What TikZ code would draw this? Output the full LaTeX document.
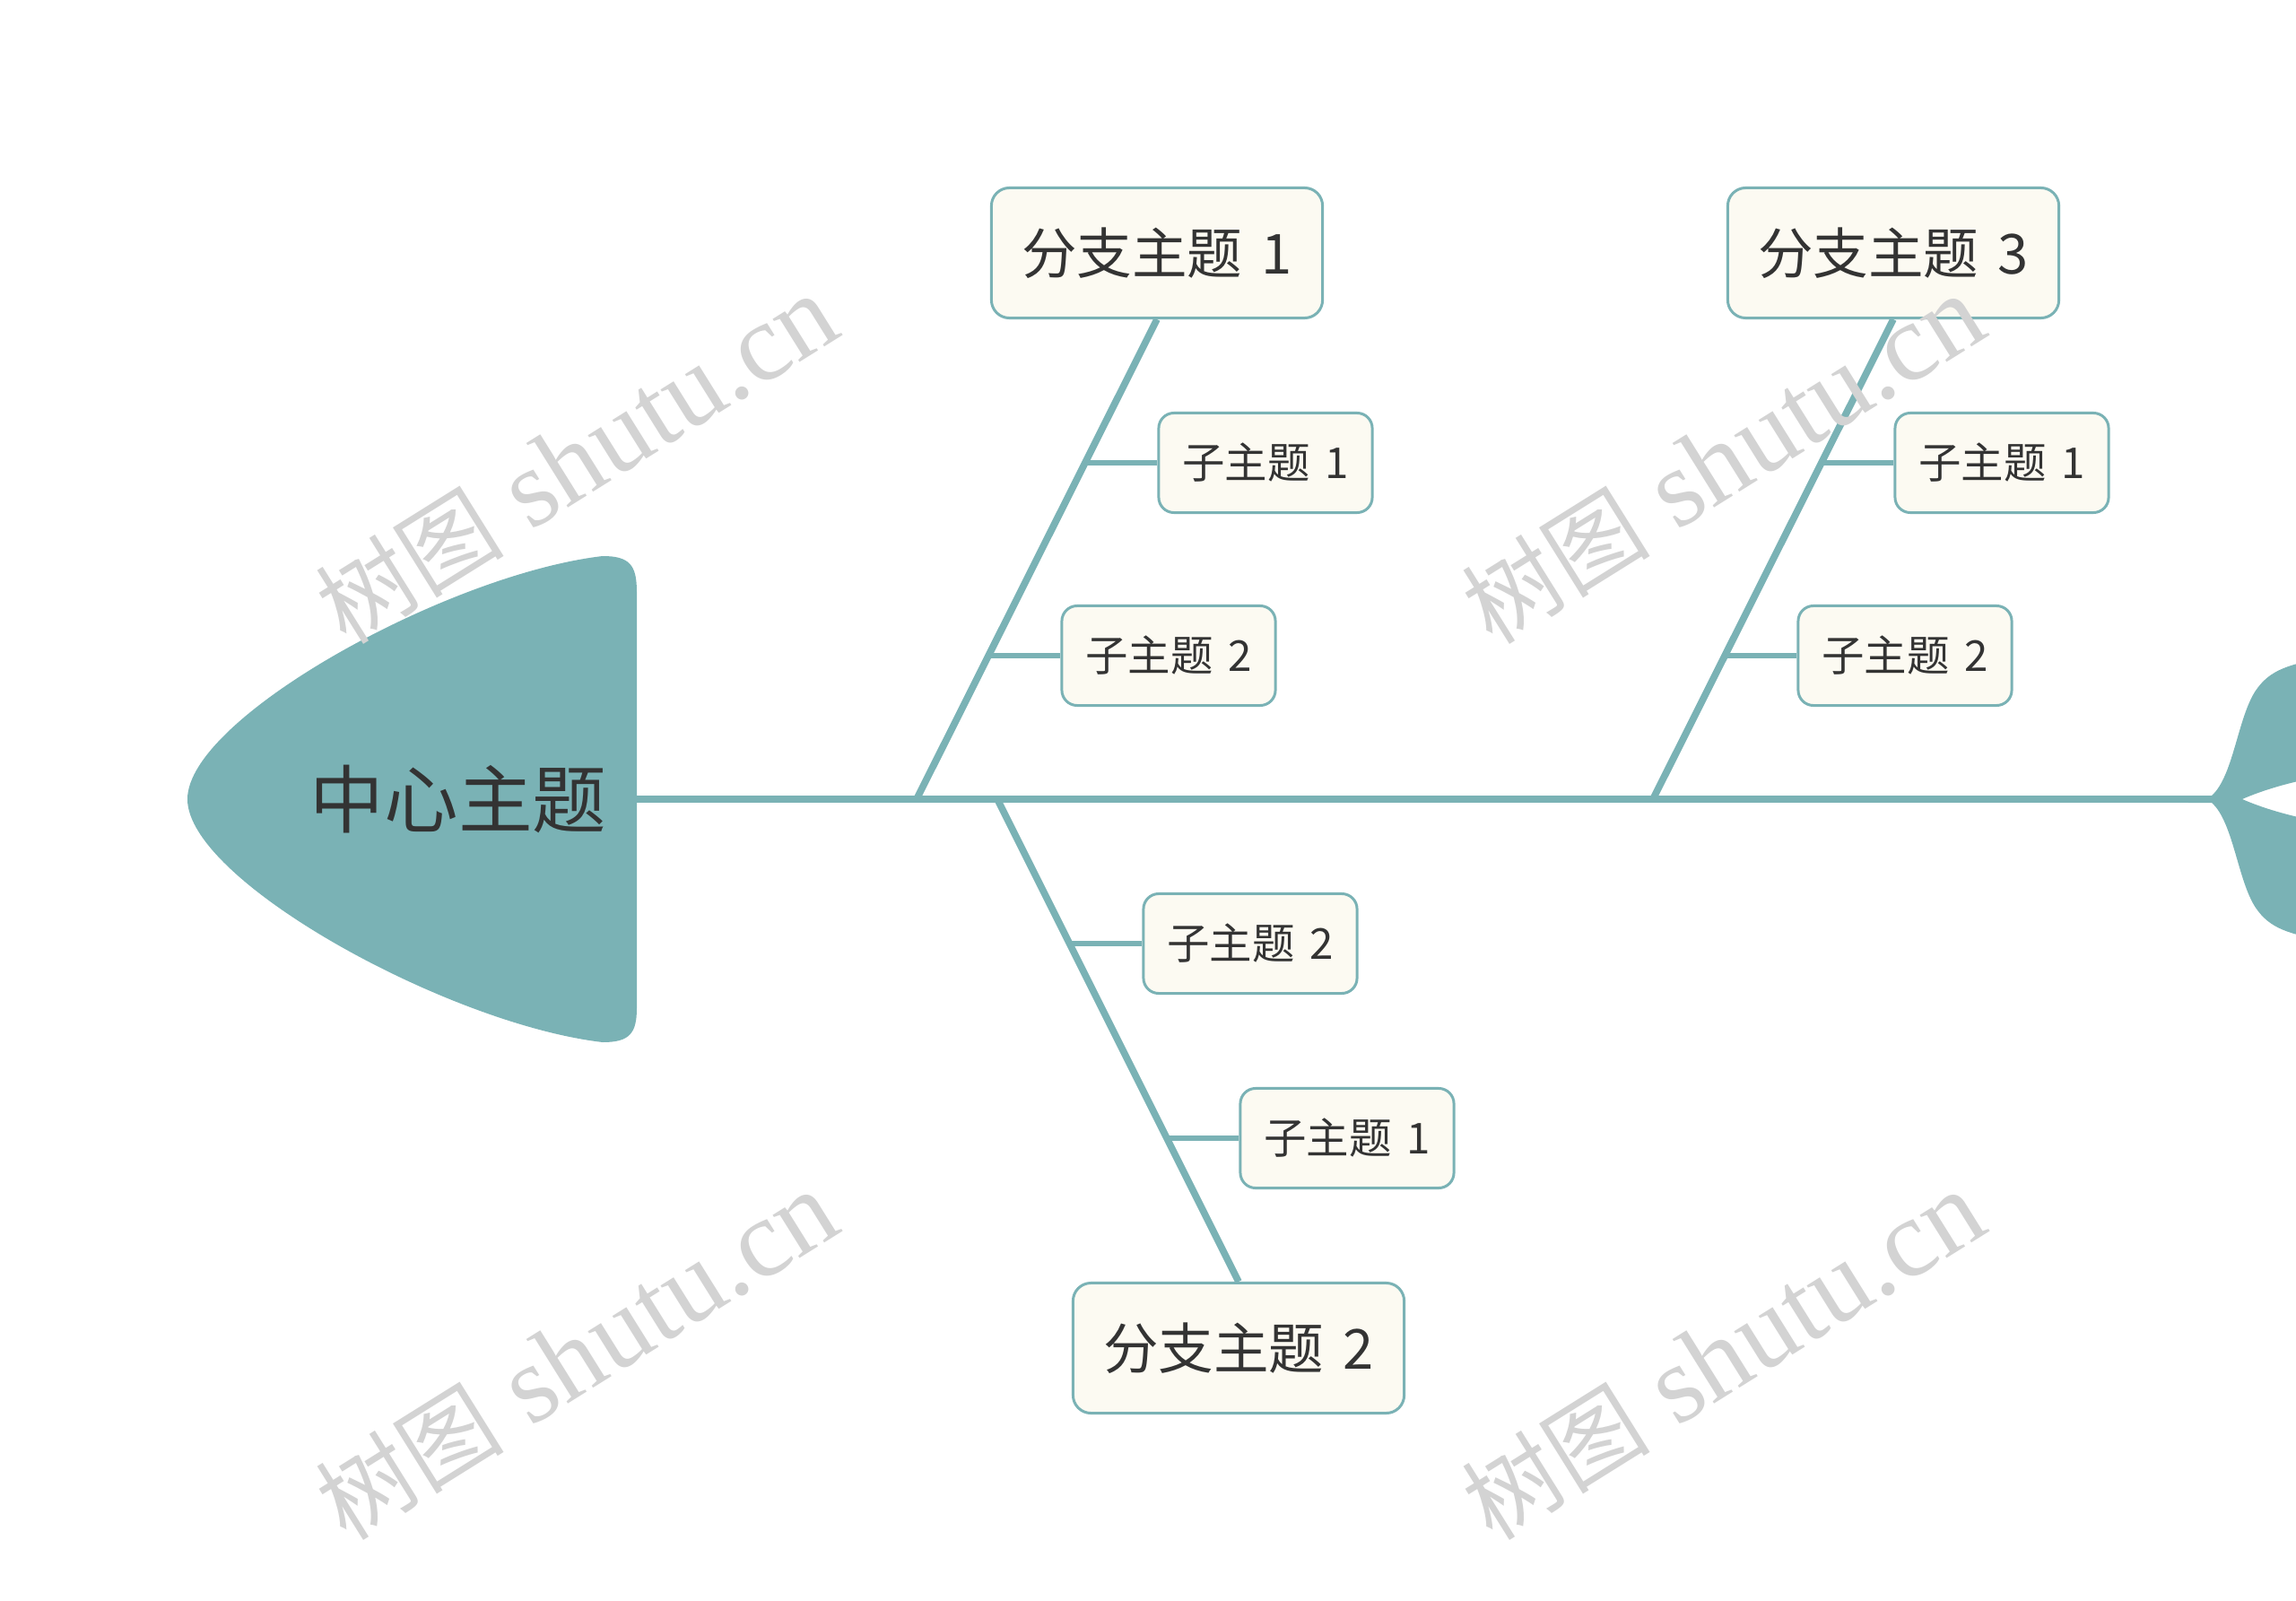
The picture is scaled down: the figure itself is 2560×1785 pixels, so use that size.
\documentclass[tikz,border=0pt]{standalone}
\usepackage{fontspec}
\newfontfamily\cjk{Noto Sans CJK SC}
\newfontfamily\wmserif{Liberation Serif}
\definecolor{teal1}{HTML}{7AB2B5}
\definecolor{boxfill}{HTML}{FCFAF2}
\definecolor{txt}{HTML}{333333}
\definecolor{wmgray}{HTML}{D3D3D3}
\newcommand{\dsp}{\hspace{0.35em}}
\newcommand{\wmtext}{{\cjk\fontsize{30}{33}\selectfont 树图}\hspace{0.25em}{\wmserif shutu.cn}}
\begin{document}
\begin{tikzpicture}[x=0.01cm,y=-0.01cm,
  branchbox/.style={draw=teal1, line width=0.85pt, fill=boxfill, rounded corners=0.2cm,
    minimum width=3.69cm, minimum height=1.45cm, inner sep=0pt, text=txt,
    font=\cjk\fontsize{17.5}{20}\selectfont},
  subbox/.style={draw=teal1, line width=0.85pt, fill=boxfill, rounded corners=0.17cm,
    minimum width=2.38cm, minimum height=1.11cm, inner sep=0pt, text=txt,
    font=\cjk\fontsize{13.5}{16}\selectfont},
  spineline/.style={draw=teal1, line width=2.3pt},
  branchline/.style={draw=teal1, line width=2.2pt},
  subline/.style={draw=teal1, line width=1.6pt},
  wm/.style={text=wmgray, rotate=32, inner sep=0pt, font=\fontsize{35}{38}\selectfont}]
\useasboundingbox (0,0) rectangle (2560,1785);
\fill[white] (0,0) rectangle (2560,1785);

% coordinates
\coordinate (headR) at (705,891);
\coordinate (fork) at (2466,891);
\coordinate (j1) at (1022,891);
\coordinate (j2) at (1112,891);
\coordinate (j3) at (1843,891);
\coordinate (k11) at (1209,516);
\coordinate (k12) at (1102,731);
\coordinate (k31) at (2030,516);
\coordinate (k32) at (1923,731);
\coordinate (k22) at (1192,1052);
\coordinate (k21) at (1301,1269);

% spine
\draw[spineline] (headR) -- (fork);

% tail
\begin{scope}
\clip (0,0) rectangle (2560,1785);
\fill[teal1] (2440,887) -- (2466,887)
  .. controls (2490,866) and (2495,800) .. (2515,770)
  .. controls (2530,748) and (2550,738) .. (2620,730)
  -- (2620,862)
  .. controls (2570,866) and (2525,880) .. (2500,891)
  .. controls (2525,902) and (2570,916) .. (2620,920)
  -- (2620,1052)
  .. controls (2550,1044) and (2530,1034) .. (2515,1012)
  .. controls (2495,982) and (2490,916) .. (2466,895)
  -- (2440,895) -- cycle;
\end{scope}

% head
\fill[teal1] (710,660) .. controls (710,630) and (702,620) .. (672,620)
  .. controls (500,640) and (209,800) .. (209,891)
  .. controls (209,982) and (500,1142) .. (672,1162)
  .. controls (702,1162) and (710,1152) .. (710,1124) -- cycle;
\node[text=txt, font=\cjk\fontsize{23.5}{26}\selectfont, inner sep=0pt] (center) at (511,891) {中心主题};

% boxes
\node[branchbox] (b1) at (1290,282) {分支主题\dsp 1};
\node[branchbox] (b3) at (2111,282) {分支主题\dsp 3};
\node[branchbox] (b2) at (1381,1503) {分支主题\dsp 2};
\node[subbox] (s11) at (1411,516) {子主题\dsp 1};
\node[subbox] (s12) at (1303,731) {子主题\dsp 2};
\node[subbox] (s31) at (2232,516) {子主题\dsp 1};
\node[subbox] (s32) at (2124,731) {子主题\dsp 2};
\node[subbox] (s22) at (1394,1052) {子主题\dsp 2};
\node[subbox] (s21) at (1502,1269) {子主题\dsp 1};

% branch lines
\draw[branchline] (b1.south) -- (j1);
\draw[branchline] (b3.south) -- (j3);
\draw[branchline] (j2) -- (b2.north);

% sub connectors
\draw[subline] (k11) -- (s11.west);
\draw[subline] (k12) -- (s12.west);
\draw[subline] (k31) -- (s31.west);
\draw[subline] (k32) -- (s32.west);
\draw[subline] (k22) -- (s22.west);
\draw[subline] (k21) -- (s21.west);

% watermarks
\node[wm] (w1) at (643,513) {\wmtext};
\node[wm] (w2) at (1921,513) {\wmtext};
\node[wm] (w3) at (643,1512) {\wmtext};
\node[wm] (w4) at (1921,1512) {\wmtext};
\end{tikzpicture}
\end{document}
